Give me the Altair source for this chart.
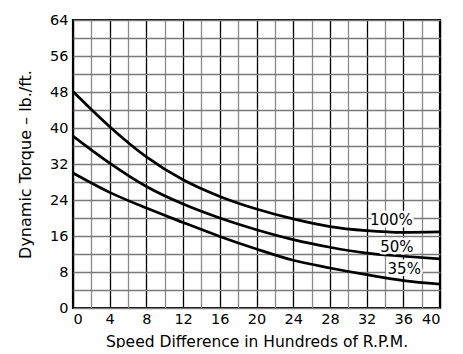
import altair as alt
import pandas as pd

speed = [0, 4, 8, 12, 16, 20, 24, 28, 32, 36, 40]
torque_100 = [48.1, 40.3, 33.6, 28.5, 24.8, 22.0, 19.8, 18.1, 17.2, 16.8, 16.9]
torque_50 = [38.2, 32.2, 27.0, 23.1, 20.0, 17.4, 15.2, 13.5, 12.2, 11.5, 10.9]
torque_35 = [30.0, 25.7, 22.2, 19.0, 15.9, 13.1, 10.6, 8.9, 7.4, 6.1, 5.3]

series_names = ["100%", "50%", "35%"]
label_x = [34.7, 35.3, 36.1]
label_y = [19.6, 13.5, 8.65]

x_ticks = list(range(0, 41, 2))
y_ticks = list(range(0, 65, 4))

rows = []
for name, vals in zip(series_names, [torque_100, torque_50, torque_35]):
    for s, t in zip(speed, vals):
        rows.append({"speed": s, "torque": t, "series": name})
df = pd.DataFrame(rows)
labels = pd.DataFrame({"speed": label_x, "torque": label_y, "label": series_names})

WIDE = "DejaVu Sans"

xscale = alt.Scale(domain=[0, 40], nice=False, zero=False)
yscale = alt.Scale(domain=[0, 64], nice=False, zero=False)

xaxis = alt.Axis(
    values=x_ticks,
    labelExpr="datum.value % 4 == 0 ? datum.label : ''",
    labelOverlap=False,
    grid=True,
    gridColor=alt.condition("datum.value % 4 == 0", alt.value("#000000"), alt.value("#8a8a8a")),
    gridWidth=1.3,
    gridOpacity=1,
    ticks=False,
    domain=False,
    labelFont=WIDE,
    labelFontSize=14.5,
    labelColor="black",
    labelPadding=4,
    title="Speed Difference in Hundreds of R.P.M.",
    titleFont=WIDE,
    titleFontSize=15.5,
    titleFontWeight="normal",
    titleColor="black",
    titlePadding=9,
)
yaxis = alt.Axis(
    values=y_ticks,
    labelExpr="datum.value % 8 == 0 ? datum.label : ''",
    labelOverlap=False,
    grid=True,
    gridColor="#7a7a7a",
    gridWidth=1.3,
    gridOpacity=1,
    ticks=False,
    domain=False,
    labelFont=WIDE,
    labelFontSize=14.5,
    labelColor="black",
    labelPadding=5,
    title="Dynamic Torque – lb./ft.",
    titleFont=WIDE,
    titleFontSize=16,
    titleFontWeight="normal",
    titleColor="black",
    titlePadding=16,
)

X = alt.X("speed:Q", scale=xscale, axis=xaxis)
Y = alt.Y("torque:Q", scale=yscale, axis=yaxis)

lines = alt.Chart(df).mark_line(color="black", strokeWidth=2.7, interpolate="monotone").encode(
    x=X, y=Y, detail="series:N",
)

halo = alt.Chart(labels).mark_text(
    font=WIDE, fontSize=15, color="white", stroke="white", strokeWidth=5, strokeJoin="round"
).encode(x=X, y=Y, text="label:N")

text = alt.Chart(labels).mark_text(font=WIDE, fontSize=15, color="black").encode(
    x=X, y=Y, text="label:N"
)

chart = (
    alt.layer(lines, halo, text)
    .properties(width=367, height=288, autosize=alt.AutoSizeParams(type="none"),
                padding={"left": 65, "top": 12, "right": 10, "bottom": 40},
                background="white")
    .configure_view(stroke="black", strokeWidth=2.2)
)

chart.save("out.html", embed_options={"renderer": "svg", "actions": False})
